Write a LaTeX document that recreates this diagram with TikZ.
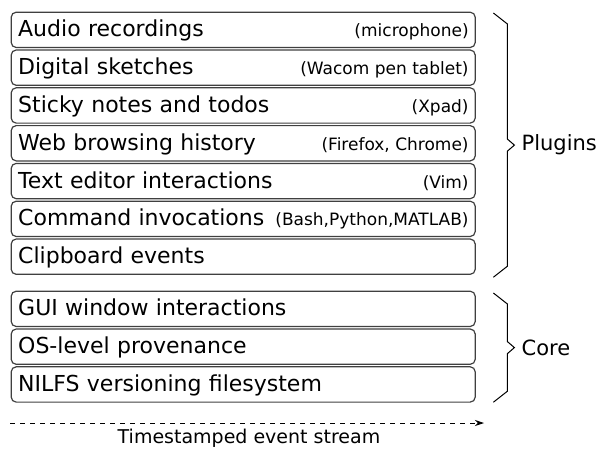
\documentclass[tikz,border=0pt]{standalone}
\usepackage{fontspec}
\setmainfont{DejaVu Sans}
\usetikzlibrary{arrows.meta,positioning,calc}

\tikzset{
  evbox/.style={draw=black!75, line width=1.2pt, rounded corners=5pt,
    minimum width=464pt, minimum height=35.3pt, inner xsep=7pt, inner ysep=0pt,
    text width=450pt, align=left, text height=17pt, text depth=3pt,
    font=\fontsize{22}{26}\selectfont},
  tool/.style={anchor=base east, xshift=-7pt, inner sep=0pt,
    font=\fontsize{17}{20}\selectfont},
  brace/.style={line width=1pt, line join=miter},
  group/.style={anchor=west, inner sep=0pt, xshift=7pt, font=\fontsize{21}{25}\selectfont}
}

\begin{document}
\begin{tikzpicture}[x=1pt, y=1pt]
  \useasboundingbox (0,0) rectangle (601,-448);

  % Plugin event sources
  \node[evbox, anchor=north west] (audio) at (10.6,-11.6) {Audio recordings};
  \node[evbox, below=1.3pt of audio] (sketch) {Digital sketches};
  \node[evbox, below=1.3pt of sketch] (notes) {Sticky notes and todos};
  \node[evbox, below=1.3pt of notes] (web) {Web browsing history};
  \node[evbox, below=1.3pt of web] (editor) {Text editor interactions};
  \node[evbox, below=1.3pt of editor] (cmd) {Command invocations};
  \node[evbox, below=1.3pt of cmd] (clip) {Clipboard events};

  \node[tool] (audiotool) at (audio.base east) {(microphone)};
  \node[tool] (sketchtool) at (sketch.base east) {(Wacom pen tablet)};
  \node[tool] (notestool) at (notes.base east) {(Xpad)};
  \node[tool] (webtool) at (web.base east) {(Firefox, Chrome)};
  \node[tool] (editortool) at (editor.base east) {(Vim)};
  \node[tool] (cmdtool) at (cmd.base east) {(Bash,Python,MATLAB)};

  % Core event sources
  \node[evbox, below=15.7pt of clip] (gui) {GUI window interactions};
  \node[evbox, below=1.3pt of gui] (os) {OS-level provenance};
  \node[evbox, below=1.3pt of os] (nilfs) {NILFS versioning filesystem};

  % Braces
  \coordinate (ptop) at ([xshift=17.6pt,yshift=-1.4pt]audio.north east);
  \coordinate (pbot) at ([xshift=17.6pt,yshift=-2.3pt]clip.south east);
  \coordinate (pmid) at ($(ptop)!0.5!(pbot)$);
  \draw[brace] (ptop) -- ++(14,-11) -- ($(pmid)+(14,6)$) -- ($(pmid)+(21,0)$) coordinate (ptip)
    -- ($(pmid)+(14,-6)$) -- ($(pbot)+(14,11)$) -- (pbot);
  \node[group] (plugins) at (ptip) {Plugins};

  \coordinate (ctop) at ([xshift=17.6pt,yshift=-2.4pt]gui.north east);
  \coordinate (cbot) at ([xshift=17.6pt,yshift=0.5pt]nilfs.south east);
  \coordinate (cmid) at ($(ctop)!0.5!(cbot)$);
  \draw[brace] (ctop) -- ++(14,-11) -- ($(cmid)+(14,6)$) -- ($(cmid)+(21,0)$) coordinate (ctip)
    -- ($(cmid)+(14,-6)$) -- ($(cbot)+(14,11)$) -- (cbot);
  \node[group] (core) at (ctip) {Core};

  % Event stream
  \coordinate (sstart) at (10,-423);
  \coordinate (send) at (484,-423);
  \draw[-{Stealth[length=9pt,width=6pt]}, line width=0.9pt, dash pattern=on 5pt off 5pt]
    (sstart) -- (send);
  \node[font=\fontsize{19}{23}\selectfont, anchor=base] (stream) at (249,-443) {Timestamped event stream};
\end{tikzpicture}
\end{document}
